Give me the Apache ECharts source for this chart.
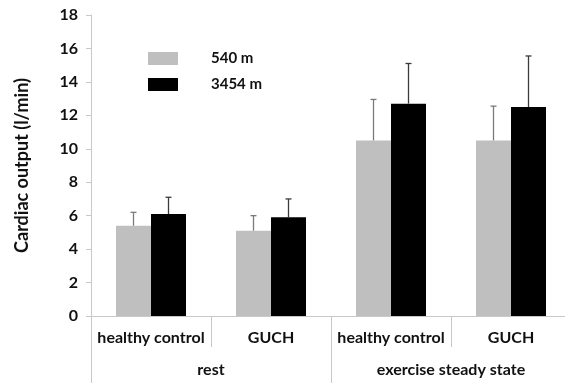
<!DOCTYPE html>
<html>
<head>
<meta charset="utf-8">
<script src="https://cdn.jsdelivr.net/npm/echarts@6/dist/echarts.min.js"></script>
<style>html,body{margin:0;padding:0;background:#fff;}#c{width:565px;height:383px;}</style>
</head>
<body>
<div id="c"></div>
<script>
const categories = ['healthy control', 'GUCH', 'healthy control', 'GUCH'];
const groups = ['rest', 'exercise steady state'];
const yTicks = [0, 2, 4, 6, 8, 10, 12, 14, 16, 18];
const low = [5.4, 5.1, 10.5, 10.5];
const lowErrTop = [6.2, 6.0, 12.95, 12.55];
const high = [6.1, 5.9, 12.7, 12.5];
const highErrTop = [7.1, 7.0, 15.1, 15.55];
const seriesNames = ['540 m', '3454 m'];

const FONT = 'Lato';
const BW = 35;

function errSeries(name, means, tops, offset, color) {
  return {
    type: 'custom',
    name: name + ' err',
    xAxisIndex: 0,
    z: 5,
    data: means.map((m, i) => [i, m, tops[i]]),
    renderItem: function (params, api) {
      const a = api.coord([api.value(0), api.value(1)]);
      const b = api.coord([api.value(0), api.value(2)]);
      const x = a[0] + offset;
      return {
        type: 'group',
        children: [
          { type: 'line', shape: { x1: x, y1: a[1], x2: x, y2: b[1] }, style: { stroke: color, lineWidth: 1.3 } },
          { type: 'line', shape: { x1: x - 3, y1: b[1], x2: x + 3, y2: b[1] }, style: { stroke: color, lineWidth: 1.3 } }
        ]
      };
    },
    silent: true
  };
}

const chart = echarts.init(document.getElementById('c'), null, { renderer: 'canvas' });
chart.setOption({
  animation: false,
  backgroundColor: '#fff',
  textStyle: { fontFamily: FONT },
  grid: { left: 91, width: 480, top: 15, bottom: 67, containLabel: false, outerBoundsMode: 'none' },
  legend: {
    data: seriesNames,
    orient: 'vertical',
    left: 143,
    top: 46,
    itemWidth: 30,
    itemHeight: 13,
    itemGap: 11,
    icon: 'rect',
    textStyle: { fontFamily: FONT, fontWeight: 'bold', fontSize: 15, color: '#111', padding: [0, 0, 0, 28] },
    selectedMode: false
  },
  xAxis: [
    {
      type: 'category',
      data: categories,
      position: 'bottom',
      axisLine: { show: true, lineStyle: { color: '#c8c8c8', width: 1 } },
      axisTick: { show: true, length: 31, interval: 0, lineStyle: { color: '#c8c8c8' } },
      axisLabel: { interval: 0, margin: 14, fontFamily: FONT, fontWeight: 'bold', fontSize: 16, color: '#111' },
      splitLine: { show: false }
    },
    {
      type: 'category',
      data: groups,
      position: 'bottom',
      gridIndex: 0,
      axisLine: { show: false },
      axisTick: { show: true, length: 70, interval: 0, lineStyle: { color: '#c8c8c8' } },
      axisLabel: { interval: 0, margin: 46, fontFamily: FONT, fontWeight: 'bold', fontSize: 16, color: '#111' },
      splitLine: { show: false }
    }
  ],
  yAxis: {
    type: 'value',
    min: 0,
    max: 18,
    interval: 2,
    name: 'Cardiac output (l/min)',
    nameLocation: 'middle',
    nameGap: 60,
    nameTextStyle: { fontFamily: FONT, fontWeight: 'bold', fontSize: 18, color: '#111' },
    axisLine: { show: true, lineStyle: { color: '#c8c8c8' } },
    axisTick: { show: true, length: 5, lineStyle: { color: '#c8c8c8' } },
    axisLabel: { margin: 13, fontFamily: FONT, fontWeight: 'bold', fontSize: 16, color: '#111',
      formatter: v => (yTicks.indexOf(v) >= 0 ? String(v) : '') },
    splitLine: { show: false }
  },
  series: [
    { type: 'bar', name: seriesNames[0], data: low, barWidth: BW, barGap: '0%', xAxisIndex: 0,
      itemStyle: { color: '#bfbfbf' } },
    { type: 'bar', name: seriesNames[1], data: high, barWidth: BW, barGap: '0%', xAxisIndex: 0,
      itemStyle: { color: '#000000' } },
    errSeries(seriesNames[0], low, lowErrTop, -BW / 2, '#7a7a7a'),
    errSeries(seriesNames[1], high, highErrTop, BW / 2, '#3a3a3a')
  ]
});
</script>
</body>
</html>
